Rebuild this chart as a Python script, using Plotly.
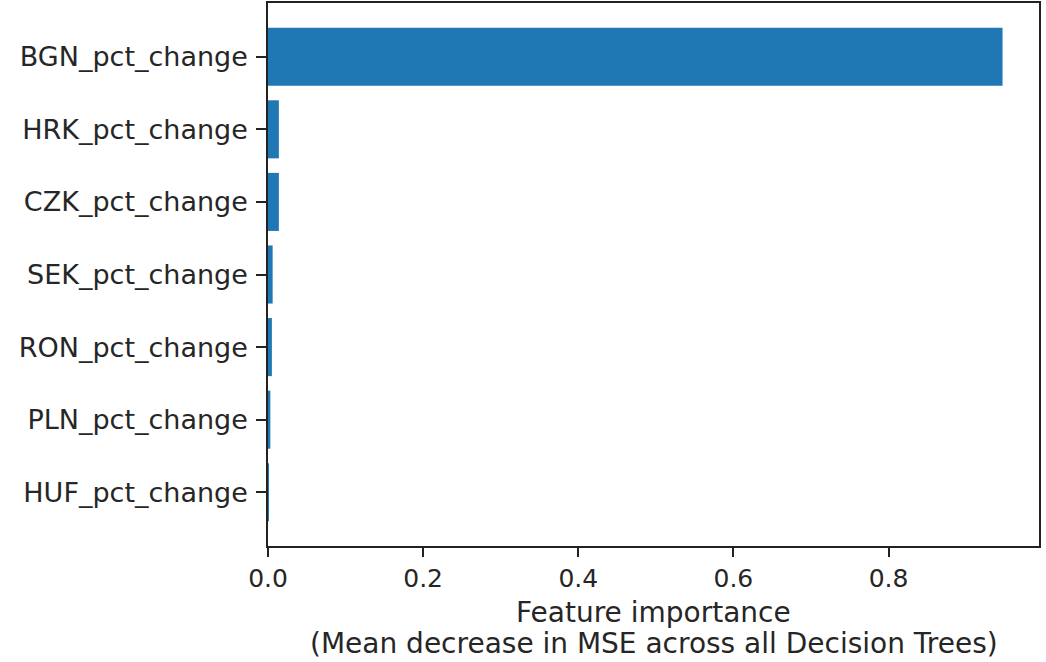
import plotly.graph_objects as go

features = ["HUF_pct_change", "PLN_pct_change", "RON_pct_change", "SEK_pct_change",
            "CZK_pct_change", "HRK_pct_change", "BGN_pct_change"]
importance = [0.0006, 0.003, 0.005, 0.006, 0.014, 0.014, 0.947]
x_ticks = [0.0, 0.2, 0.4, 0.6, 0.8]
x_tick_labels = ["0.0", "0.2", "0.4", "0.6", "0.8"]
x_title_lines = ["Feature importance", "(Mean decrease in MSE across all Decision Trees)"]

FONT = "DejaVu Sans"
TOP, BOTTOM = 3, 546
H = BOTTOM - TOP

fig = go.Figure(go.Bar(
    y=list(range(len(features))), x=importance, orientation="h",
    marker=dict(color="#1f77b4", line=dict(width=0)), width=0.8,
))

line_centers_px = [612, 643]
for txt, py in zip(x_title_lines, line_centers_px):
    fig.add_annotation(
        text=txt, xref="paper", yref="paper", x=0.5, y=(BOTTOM - py) / H,
        xanchor="center", yanchor="middle", showarrow=False,
        font=dict(family=FONT, size=28, color="#262626"),
    )

fig.update_layout(
    width=1046, height=662,
    margin=dict(l=268, r=7, t=TOP, b=662 - BOTTOM, autoexpand=False),
    plot_bgcolor="white", paper_bgcolor="white",
    font=dict(family=FONT, size=25, color="#262626"),
    showlegend=False,
)
fig.update_xaxes(
    range=[0, 0.994], tickvals=x_ticks, ticktext=x_tick_labels,
    showgrid=False, zeroline=False,
    showline=True, linecolor="#222", linewidth=1.5, mirror=True,
    ticks="outside", ticklen=9, tickwidth=1.5, tickcolor="#222",
    tickfont=dict(size=25),
    automargin=False,
)
fig.update_yaxes(
    range=[-0.74, 6.74], tickvals=list(range(len(features))), ticktext=features,
    showgrid=False, zeroline=False,
    showline=True, linecolor="#222", linewidth=1.5, mirror=True,
    ticks="outside", ticklen=10, tickwidth=1.5, tickcolor="#222",
    tickfont=dict(size=27), ticklabelstandoff=3,
    automargin=False,
)
fig.write_html("out.html")
